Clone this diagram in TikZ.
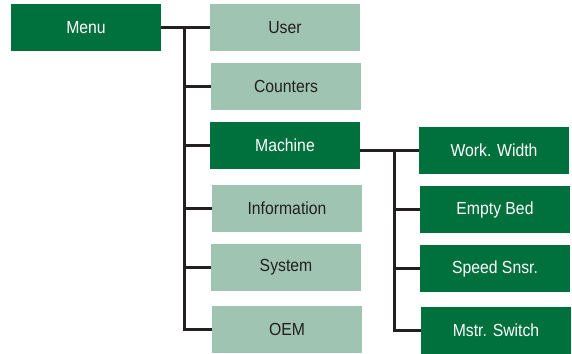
\documentclass[tikz,border=0pt]{standalone}
\usepackage{fontspec}
\setmainfont{Liberation Sans}
\newfontfamily\boxfont[FakeStretch=0.9]{Liberation Sans}
\definecolor{darkgreen}{HTML}{00703C}
\definecolor{lightgreen}{HTML}{A0C4B2}
\definecolor{linecol}{HTML}{231F20}
\begin{document}
\begin{tikzpicture}[x=1pt,y=-1pt,
  box/.style={rectangle, minimum width=150pt, minimum height=47pt, inner sep=0pt,
    font=\boxfont\fontsize{17.5}{20}\selectfont},
  darkbox/.style={box, fill=darkgreen, text=white},
  lightbox/.style={box, fill=lightgreen, text=linecol},
  conn/.style={draw=linecol, line width=3pt}]
\useasboundingbox (0,0) rectangle (572,353);
\node[darkbox] (menu) at (86,27.5) {Menu};
\node[lightbox] (user) at (285,27.5) {User};
\node[lightbox] (counters) at (286,86.5) {Counters};
\node[darkbox] (machine) at (285,145.5) {Machine};
\node[lightbox] (info) at (287,208.5) {Information};
\node[lightbox] (system) at (286,267.5) {System};
\node[lightbox] (oem) at (287,329.5) {OEM};
\node[darkbox] (work) at (494,150.5) {Work. Width};
\node[darkbox] (empty) at (495,209.5) {Empty Bed};
\node[darkbox] (speed) at (495,268.5) {Speed Snsr.};
\node[darkbox] (mstr) at (496,330.5) {Mstr. Switch};
\coordinate (t1) at (184,27.5);
\coordinate (t2) at (394,150.5);
\draw[conn] (menu.east) -- (user.west);
\draw[conn] (t1) |- (counters.west);
\draw[conn] (t1) |- (machine.west);
\draw[conn] (t1) |- (info.west);
\draw[conn] (t1) |- (system.west);
\draw[conn] (t1) |- (oem.west);
\draw[conn] (machine.east |- work.west) -- (work.west);
\draw[conn] (t2) |- (empty.west);
\draw[conn] (t2) |- (speed.west);
\draw[conn] (t2) |- (mstr.west);
\end{tikzpicture}
\end{document}
